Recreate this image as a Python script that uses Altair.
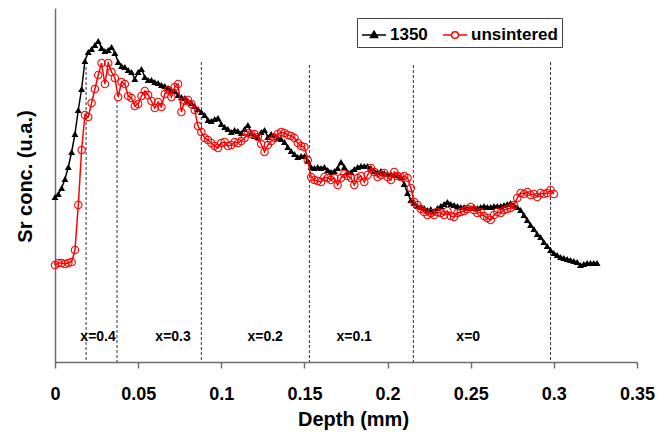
import altair as alt
import pandas as pd

# Depth (mm) sampling positions
depth = [
    0.000, 0.002, 0.004, 0.006, 0.008, 0.010, 0.012, 0.014, 0.016, 0.018,
    0.020, 0.022, 0.024, 0.026, 0.028, 0.030, 0.032, 0.034, 0.036, 0.038,
    0.040, 0.042, 0.044, 0.046, 0.048, 0.050, 0.052, 0.054, 0.056, 0.058,
    0.060, 0.062, 0.064, 0.066, 0.068, 0.070, 0.072, 0.074, 0.076, 0.078,
    0.080, 0.082, 0.084, 0.086, 0.088, 0.090, 0.092, 0.094, 0.096, 0.098,
    0.100, 0.102, 0.104, 0.106, 0.108, 0.110, 0.112, 0.114, 0.116, 0.118,
    0.120, 0.122, 0.124, 0.126, 0.128, 0.130, 0.132, 0.134, 0.136, 0.138,
    0.140, 0.142, 0.144, 0.146, 0.148, 0.150, 0.152, 0.154, 0.156, 0.158,
    0.160, 0.162, 0.164, 0.166, 0.168, 0.170, 0.172, 0.174, 0.176, 0.178,
    0.180, 0.182, 0.184, 0.186, 0.188, 0.190, 0.192, 0.194, 0.196, 0.198,
    0.200, 0.202, 0.204, 0.206, 0.208, 0.210, 0.212, 0.214, 0.216, 0.218,
    0.220, 0.222, 0.224, 0.226, 0.228, 0.230, 0.232, 0.234, 0.236, 0.238,
    0.240, 0.242, 0.244, 0.246, 0.248, 0.250, 0.252, 0.254, 0.256, 0.258,
    0.260, 0.262, 0.264, 0.266, 0.268, 0.270, 0.272, 0.274, 0.276, 0.278,
    0.280, 0.282, 0.284, 0.286, 0.288, 0.290, 0.292, 0.294, 0.296, 0.298,
    0.300, 0.302, 0.304, 0.306, 0.308, 0.310, 0.312, 0.314, 0.316, 0.318,
    0.320, 0.322, 0.324, 0.326,
]

# Sr concentration (arbitrary units), sample sintered at 1350
sr_1350 = [
    165, 168, 174, 183, 195, 210, 228, 252, 273, 301,
    310, 313, 317, 321, 314, 311, 312, 315, 309, 300,
    296, 295, 292, 290, 283, 290, 293, 285, 282, 282,
    280, 279, 277, 276, 274, 272, 271, 267, 265, 264,
    261, 259, 256, 253, 250, 247, 242, 241, 243, 244,
    238, 235, 233, 230, 232, 231, 229, 233, 237, 229,
    226, 225, 230, 232, 225, 228, 227, 224, 223, 220,
    215, 211, 208, 205, 206, 206, 201, 195, 194, 195,
    194, 195, 192, 190, 191, 194, 200, 195, 190, 190,
    193, 195, 196, 196, 196, 194, 191, 190, 191, 189,
    188, 188, 187, 187, 185, 178, 169, 162, 159, 156,
    155, 154, 152, 153, 151, 154, 156, 158, 160, 158,
    157, 156, 155, 155, 154, 154, 155, 154, 155, 156,
    155, 155, 156, 156, 156, 157, 158, 159, 157, 155,
    152, 147, 142, 137, 133, 128, 125, 120, 116, 112,
    109, 107, 105, 104, 103, 102, 101, 100, 97, 98,
    99, 99, 99, 99,
]

# Sr concentration (arbitrary units), unsintered sample
sr_unsintered = [
    97, 99, 99, 98, 99, 100, 112, 157, 212, 247,
    245, 259, 273, 287, 299, 278, 299, 290, 284, 265,
    280, 278, 266, 264, 256, 258, 266, 271, 267, 261,
    254, 260, 255, 268, 272, 265, 275, 278, 250, 261,
    262, 258, 252, 236, 230, 224, 222, 219, 216, 214,
    219, 220, 216, 217, 220, 219, 221, 224, 229, 228,
    228, 225, 218, 210, 217, 221, 224, 228, 230, 229,
    227, 226, 224, 219, 216, 215, 202, 185, 182, 181,
    180, 185, 184, 182, 184, 177, 184, 188, 186, 184,
    177, 184, 186, 180, 187, 194, 190, 185, 187, 189,
    185, 182, 190, 186, 185, 186, 184, 174, 160, 157,
    153, 150, 147, 149, 147, 150, 149, 147, 151, 146,
    145, 149, 150, 151, 153, 155, 152, 149, 150, 146,
    144, 142, 147, 150, 149, 152, 153, 154, 157, 164,
    169, 168, 170, 167, 168, 165, 169, 168, 169, 172,
    168,
]

series_names = ["1350", "unsintered"]
series_line_colors = ["black", "red"]
series_fill_colors = ["black", "transparent"]

# Zone boundaries (dashed lines) and their top ends
boundary_depth = [0.0187, 0.0373, 0.0880, 0.1530, 0.2155, 0.2980]
boundary_top = [295, 262, 300, 297, 297, 300]

# Zone labels
zone_labels = ["x=0.4", "x=0.3", "x=0.2", "x=0.1", "x=0"]
zone_label_depth = [0.0259, 0.0710, 0.1264, 0.1799, 0.2485]
zone_label_y = 25

x_ticks = [0, 0.05, 0.1, 0.15, 0.2, 0.25, 0.3, 0.35]

FONT = "Liberation Sans"

rows = []
for d, v in zip(depth, sr_1350):
    rows.append({"series": "1350", "depth": d, "value": v})
for d, v in zip(depth[: len(sr_unsintered)], sr_unsintered):
    rows.append({"series": "unsintered", "depth": d, "value": v})
df = pd.DataFrame(rows)

bdf = pd.DataFrame({"depth": boundary_depth, "top": boundary_top})
ldf = pd.DataFrame({"depth": zone_label_depth, "label": zone_labels})

xscale = alt.Scale(domain=[0, 0.35], nice=False, zero=False)
yscale = alt.Scale(domain=[0, 354], nice=False)

x_axis = alt.Axis(
    values=x_ticks, format="~g", grid=False, tickSize=6, tickColor="#6e6e6e",
    tickWidth=1.5, domainColor="#6e6e6e", domainWidth=1.5,
    labelFont=FONT, labelFontSize=18, labelFontWeight="bold", labelColor="black",
    labelPadding=17, labelFlush=False, labelOverlap=False,
    title="Depth (mm)", titleFont=FONT, titleFontSize=20, titleFontWeight="bold",
    titleColor="black", titleX=298, titleY=63, titleBaseline="alphabetic",
)
y_axis = alt.Axis(
    labels=False, ticks=False, grid=False, domainColor="#6e6e6e", domainWidth=1.5,
    title="Sr conc. (u.a.)", titleFont=FONT, titleFontSize=20, titleFontWeight="bold",
    titleColor="black", titleX=-30, titleY=168, titleBaseline="middle",
    titleAlign="center", titleAngle=270,
)

# legend symbols: a line with a marker on it
tri = "M-1,0H1M0,-0.32L0.3,0.2L-0.3,0.2Z"
circ = "M-1,0H-0.28M0.28,0H1M0.28,0A0.28,0.28,0,1,1,-0.28,0A0.28,0.28,0,1,1,0.28,0"

legend = alt.Legend(
    title=None, orient="none", legendX=302, legendY=10, direction="horizontal",
    symbolSize=576, labelFont=FONT, labelFontSize=17, labelFontWeight="bold",
    labelColor="black", labelOffset=3, columnPadding=12, padding=4,
    strokeColor="#444444", fillColor="white", symbolStrokeWidth=1.5,
)

base = alt.Chart(df)

rules = alt.Chart(bdf).mark_rule(color="#333333", strokeDash=[3, 2], strokeWidth=1).encode(
    x=alt.X("depth:Q", scale=xscale, axis=x_axis),
    y=alt.Y("top:Q", scale=yscale, axis=y_axis),
    y2=alt.datum(0),
)

labels = alt.Chart(ldf).mark_text(
    font=FONT, fontSize=14, fontWeight="bold", color="black", baseline="middle"
).encode(
    x=alt.X("depth:Q", scale=xscale),
    y=alt.datum(zone_label_y),
    text="label:N",
)

def series_layers(name, color, marker):
    sub = base.transform_filter(alt.datum.series == name)
    line = sub.mark_line(strokeWidth=1.5, color=color).encode(
        x=alt.X("depth:Q", scale=xscale), y=alt.Y("value:Q", scale=yscale)
    )
    if marker == "tri":
        pts = sub.mark_point(shape="triangle-up", filled=True, color=color, size=48, opacity=1)
    else:
        pts = sub.mark_point(shape="circle", filled=False, color=color, size=55,
                             strokeWidth=1.1, opacity=1)
    pts = pts.encode(x=alt.X("depth:Q", scale=xscale), y=alt.Y("value:Q", scale=yscale))
    return line, pts

l1, p1 = series_layers("1350", "black", "tri")
l2, p2 = series_layers("unsintered", "red", "circ")

# invisible layer that only carries the legend
legend_layer = base.transform_filter("false").mark_point(
    size=576, strokeWidth=1.5, opacity=1
).encode(
    x=alt.X("depth:Q", scale=xscale),
    y=alt.Y("value:Q", scale=yscale),
    shape=alt.Shape("series:N", scale=alt.Scale(domain=series_names, range=[tri, circ]), legend=legend),
    fill=alt.Fill("series:N", scale=alt.Scale(domain=series_names, range=series_fill_colors), legend=legend),
    stroke=alt.Stroke("series:N", scale=alt.Scale(domain=series_names, range=series_line_colors), legend=legend),
)

chart = alt.layer(rules, labels, l1, p1, l2, p2, legend_layer).properties(
    width=582, height=354,
    padding={"left": 47, "top": 0, "right": 24, "bottom": 72},
    autosize=alt.AutoSizeParams(type="none"),
).configure_view(stroke=None)

chart.save("out.html", embed_options={"renderer": "svg", "actions": False})
